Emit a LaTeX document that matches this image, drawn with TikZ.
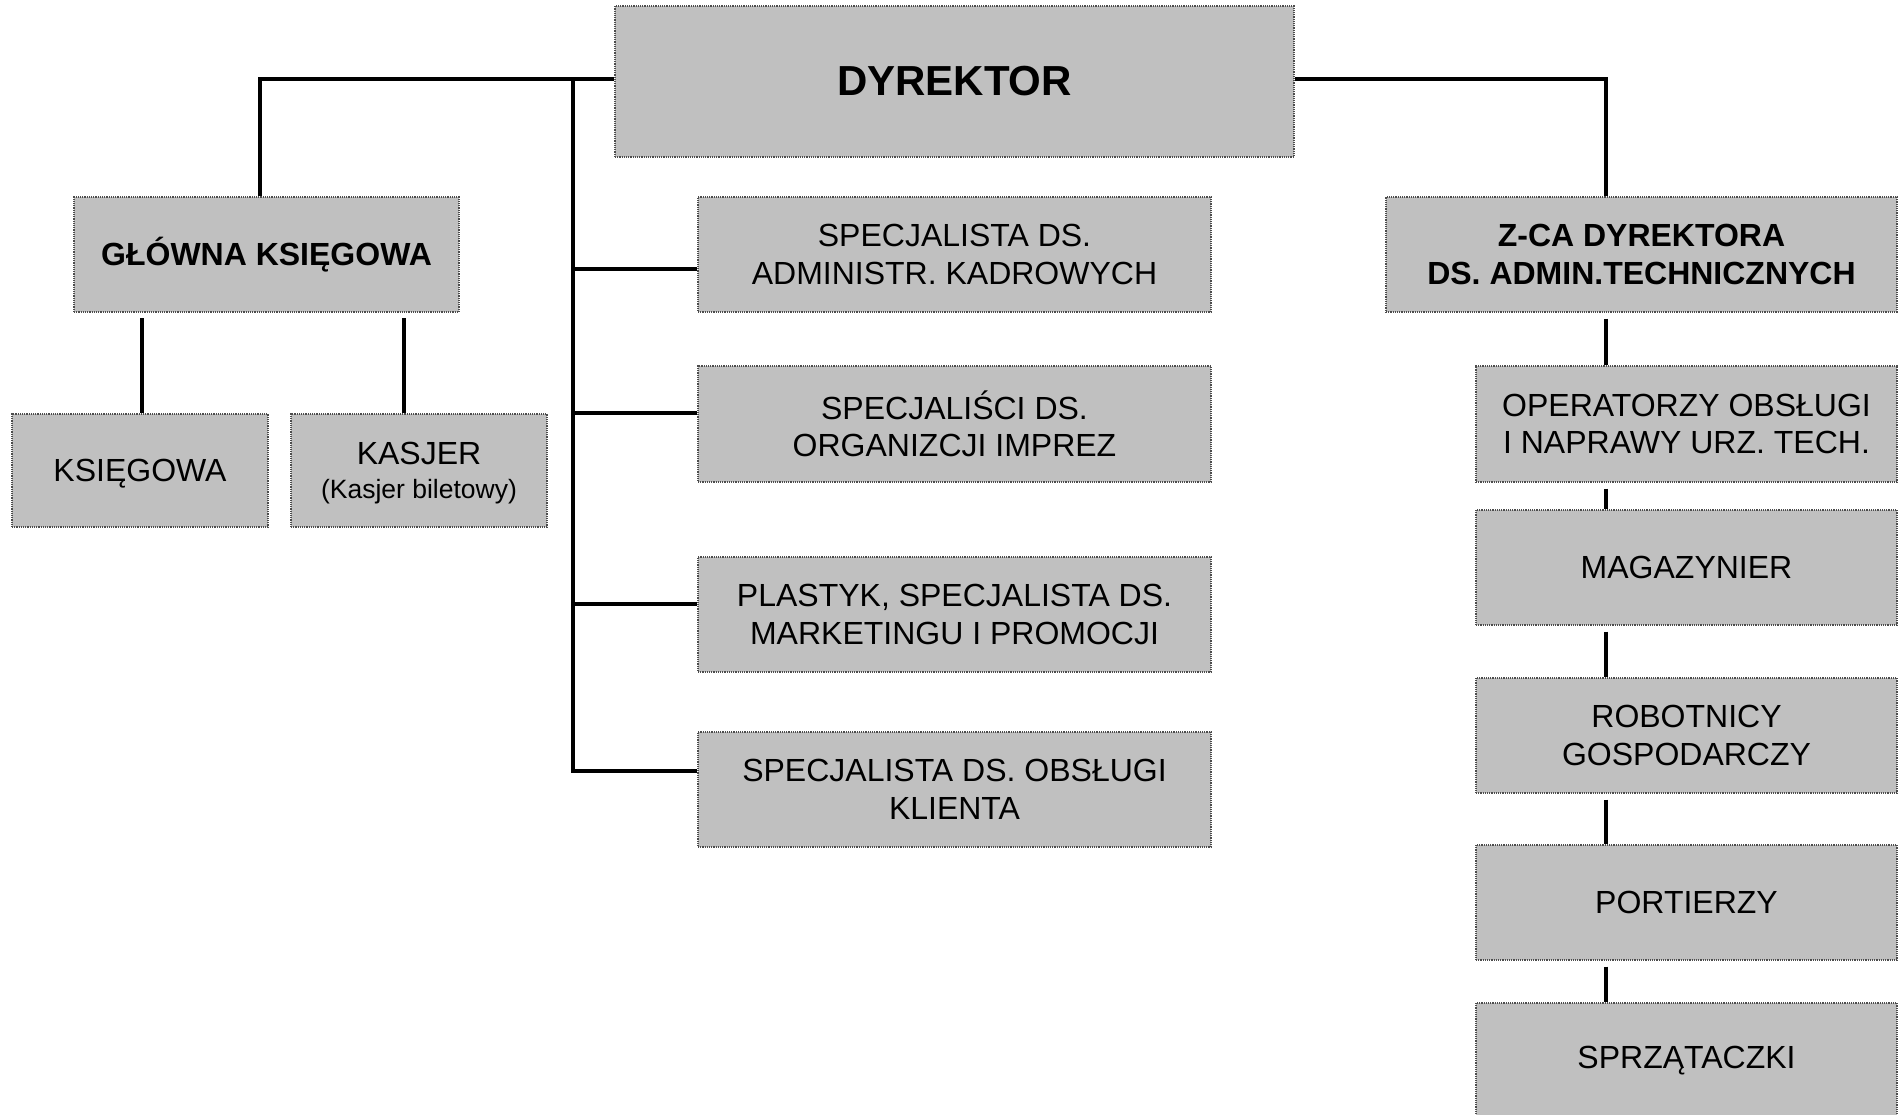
\documentclass[tikz,border=0pt]{standalone}
\usepackage{fontspec}
\setmainfont{Liberation Sans}
\usetikzlibrary{calc}
\definecolor{boxgray}{RGB}{192,192,192}
\begin{document}
\begin{tikzpicture}[x=1pt,y=-1pt,
  box/.style={draw=black!70, densely dotted, line width=1.2pt, fill=boxgray, inner sep=0pt, align=center, font=\fontsize{32}{37.5}\selectfont},
  bbox/.style={box, font=\fontsize{32}{38}\selectfont\bfseries},
  conn/.style={line width=3.5pt, draw=black}
]
\useasboundingbox (0,0) rectangle (1898,1114);
\fill[white] (0,0) rectangle (1898,1114);

% top
\node[bbox, minimum width=679pt, minimum height=151pt, font=\fontsize{42}{48}\selectfont\bfseries] (dyr) at (954.5,81.5) {DYREKTOR};

% left group
\node[bbox, minimum width=385pt, minimum height=115pt] (gk) at (266.5,254.5) {GŁÓWNA KSIĘGOWA};
\node[box, minimum width=256pt, minimum height=113pt, text depth=-2pt] (ks) at (140,470.5) {KSIĘGOWA};
\node[box, minimum width=256pt, minimum height=113pt, text depth=-4pt] (ka) at (419,470.5) {KASJER\\[-4pt]{\fontsize{26.5}{30}\selectfont (Kasjer biletowy)}};

% middle group
\node[box, minimum width=513pt, minimum height=115pt] (s1) at (954.5,254.5) {SPECJALISTA DS.\\ADMINISTR. KADROWYCH};
\node[box, minimum width=513pt, minimum height=116pt] (s2) at (954.5,424) {SPECJALIŚCI DS.\\ORGANIZCJI IMPREZ};
\node[box, minimum width=513pt, minimum height=115pt] (s3) at (954.5,614.5) {PLASTYK, SPECJALISTA DS.\\MARKETINGU I PROMOCJI};
\node[box, minimum width=513pt, minimum height=115pt] (s4) at (954.5,789.5) {SPECJALISTA DS. OBSŁUGI\\KLIENTA};

% right group
\node[bbox, minimum width=511pt, minimum height=115pt] (zca) at (1641.5,254.5) {Z-CA DYREKTORA\\DS. ADMIN.TECHNICZNYCH};
\node[box, minimum width=421pt, minimum height=116pt] (op) at (1686.5,424) {OPERATORZY OBSŁUGI\\I NAPRAWY URZ. TECH.};
\node[box, minimum width=421pt, minimum height=115pt] (mag) at (1686.5,567.5) {MAGAZYNIER};
\node[box, minimum width=421pt, minimum height=115pt] (rob) at (1686.5,735.5) {ROBOTNICY\\GOSPODARCZY};
\node[box, minimum width=421pt, minimum height=115pt] (por) at (1686.5,902.5) {PORTIERZY};
\node[box, minimum width=421pt, minimum height=115pt] (spr) at (1686.5,1060.5) {SPRZĄTACZKI};

% connector coordinates
\coordinate (lc) at (260,79);
\coordinate (rc) at (1606,79);
\coordinate (ttop) at (573,79);
\coordinate (tbot) at (573,771);
\coordinate (b1) at (573,269);
\coordinate (b2) at (573,413);
\coordinate (b3) at (573,604);
\coordinate (b4) at (573,771);
\coordinate (k1) at (142,318);
\coordinate (k2) at (404,318);

% connectors
\draw[conn] (dyr.west |- lc) -- (lc) -- (lc |- gk.north);
\draw[conn] (dyr.east |- rc) -- (rc) -- (rc |- zca.north);
\draw[conn] (ttop) -- (tbot) -- (b4 -| s4.west);
\draw[conn] (b1) -- (b1 -| s1.west);
\draw[conn] (b2) -- (b2 -| s2.west);
\draw[conn] (b3) -- (b3 -| s3.west);
\draw[conn] (k1) -- (k1 |- ks.north);
\draw[conn] (k2) -- (k2 |- ka.north);
\draw[conn] ($(rc |- zca.south)+(0,6)$) -- (rc |- op.north);
\draw[conn] ($(rc |- op.south)+(0,6)$) -- (rc |- mag.north);
\draw[conn] ($(rc |- mag.south)+(0,6)$) -- (rc |- rob.north);
\draw[conn] ($(rc |- rob.south)+(0,6)$) -- (rc |- por.north);
\draw[conn] ($(rc |- por.south)+(0,6)$) -- (rc |- spr.north);
\end{tikzpicture}
\end{document}
